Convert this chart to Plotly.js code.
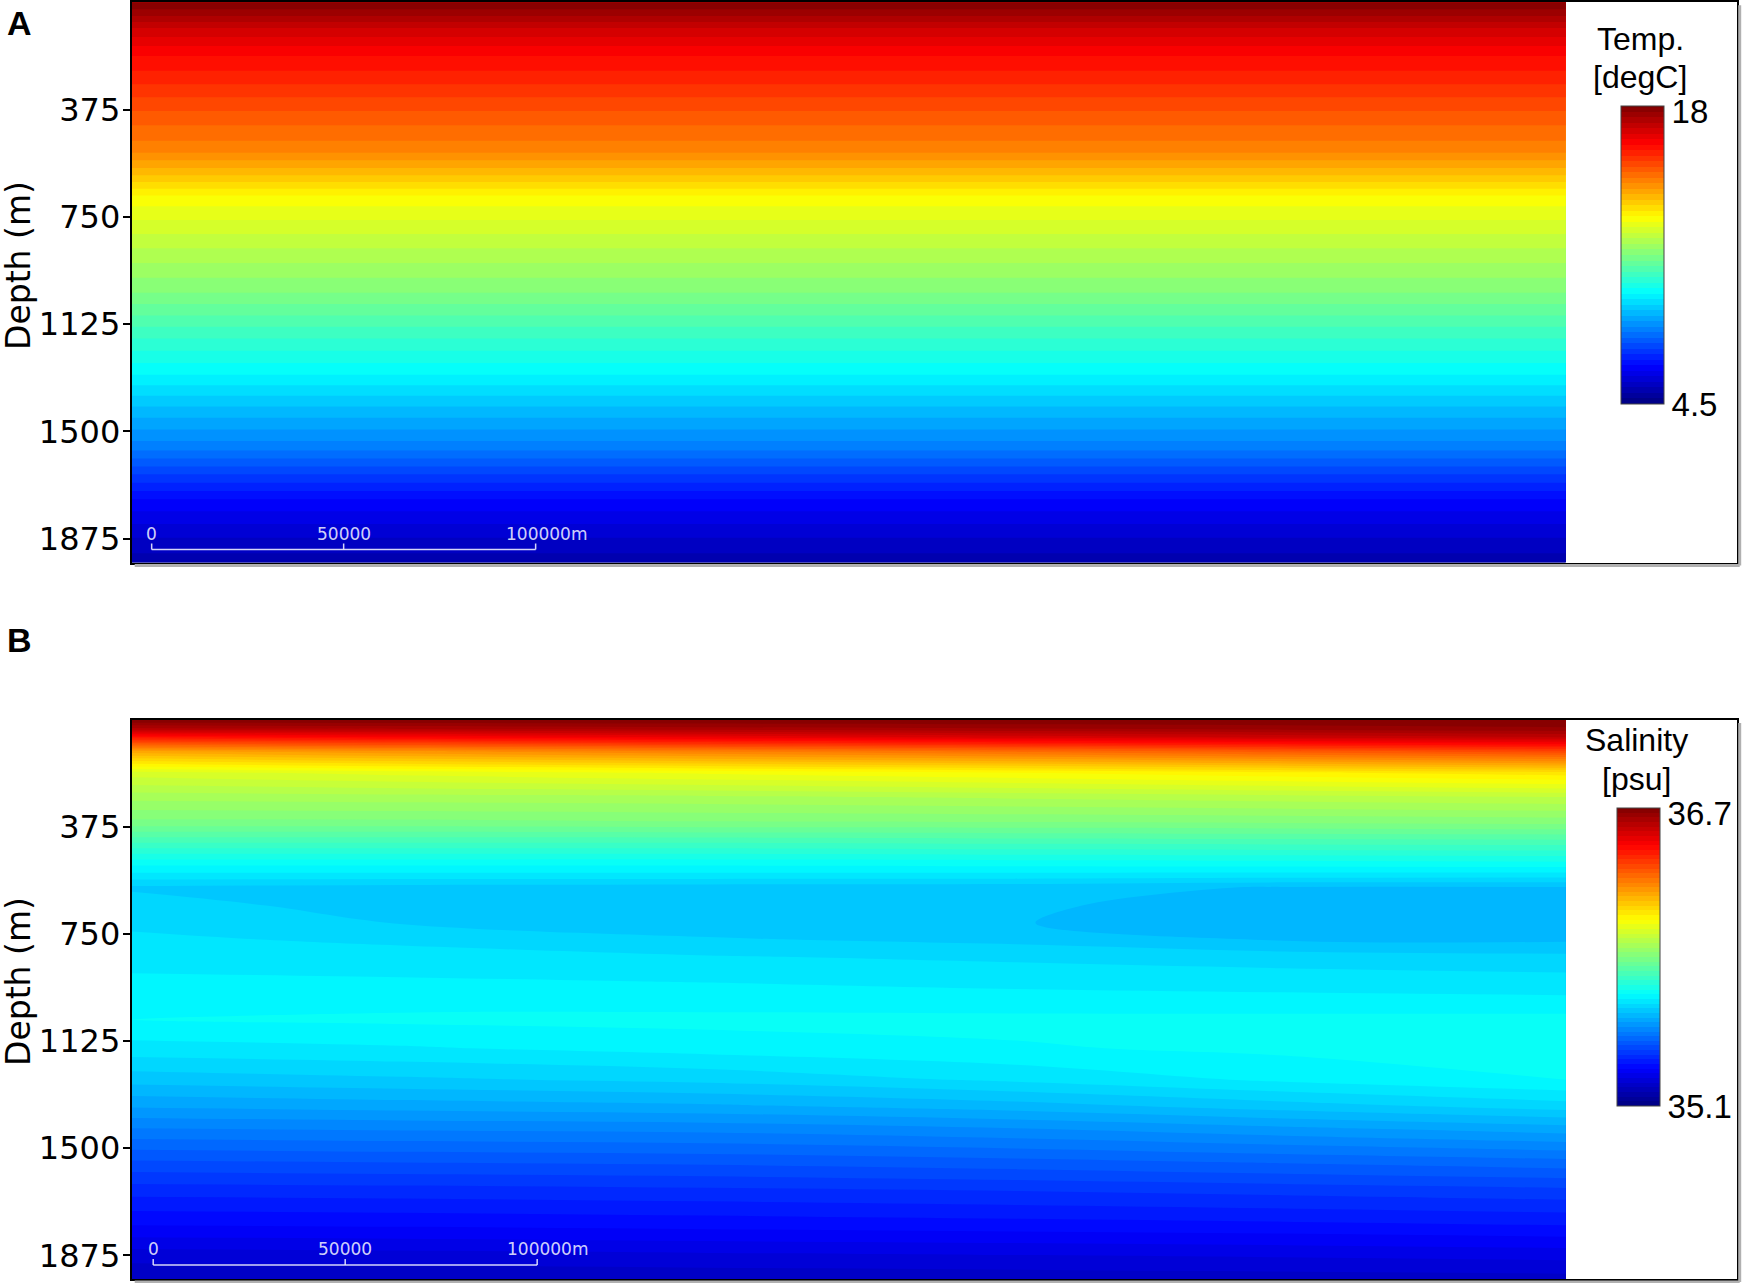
<!DOCTYPE html>
<html>
<head>
<meta charset="utf-8">
<script src="https://cdn.plot.ly/plotly-3.0.1.min.js"></script>
<style>
  html, body { margin: 0; padding: 0; background: white; }
  #chart { width: 1750px; height: 1283px; }
</style>
</head>
<body>
<div id="chart"></div>
<script>
'use strict'

// horizontal distance of the section columns (m)
var distT = [0, 373500];
var distS = [0, 70000, 150000, 230000, 300000, 373500];

// temperature profile, same in every column
var depthT = [0, 40, 90, 178, 260, 350, 430, 516, 600, 685, 780, 880, 1015, 1150, 1293, 1420, 1550, 1650, 1743, 1850, 1958];
var temp   = [18.0, 17.6, 17.0, 16.3, 15.9, 15.4, 15.0, 14.6, 13.8, 12.9, 12.4, 11.9, 11.25, 10.4, 9.56, 8.7, 7.9, 7.0, 6.2, 5.6, 5.1];

// salinity, one list per column of distS
var depthS = [0, 30, 60, 110, 185, 270, 361, 430, 500, 545, 586, 650, 711, 770, 830, 915, 1000, 1050, 1150, 1260, 1350, 1430, 1550, 1650, 1770, 1870, 1958];
var sal0 = [36.70, 36.62, 36.47, 36.24, 36.04, 35.96, 35.89, 35.80, 35.71, 35.665, 35.62, 35.64, 35.645, 35.655, 35.665, 35.68, 35.695, 35.70, 35.665, 35.61, 35.555, 35.50, 35.42, 35.36, 35.30, 35.24, 35.20];
var sal1 = [36.70, 36.63, 36.50, 36.27, 36.06, 35.965, 35.89, 35.80, 35.71, 35.665, 35.615, 35.61, 35.624, 35.645, 35.66, 35.678, 35.695, 35.705, 35.672, 35.62, 35.563, 35.505, 35.425, 35.363, 35.303, 35.243, 35.203];
var sal2 = [36.70, 36.64, 36.53, 36.30, 36.08, 35.97, 35.895, 35.80, 35.71, 35.665, 35.612, 35.607, 35.61, 35.628, 35.652, 35.674, 35.693, 35.708, 35.685, 35.632, 35.572, 35.51, 35.43, 35.368, 35.308, 35.248, 35.206];
var sal3 = [36.70, 36.65, 36.56, 36.33, 36.10, 35.98, 35.897, 35.805, 35.713, 35.664, 35.61, 35.604, 35.601, 35.618, 35.645, 35.668, 35.69, 35.708, 35.697, 35.655, 35.59, 35.525, 35.44, 35.375, 35.313, 35.252, 35.209];
var sal4 = [36.70, 36.66, 36.58, 36.36, 36.12, 35.99, 35.90, 35.808, 35.716, 35.662, 35.598, 35.588, 35.588, 35.598, 35.638, 35.664, 35.688, 35.709, 35.706, 35.68, 35.615, 35.545, 35.452, 35.383, 35.318, 35.256, 35.212];
var sal5 = [36.70, 36.67, 36.60, 36.39, 36.14, 36.00, 35.905, 35.81, 35.72, 35.66, 35.598, 35.585, 35.583, 35.596, 35.632, 35.66, 35.686, 35.71, 35.714, 35.70, 35.64, 35.565, 35.465, 35.392, 35.325, 35.262, 35.215];

var depthTicks = [375, 750, 1125, 1500, 1875];
var tempRange = [4.5, 18];
var salRange = [35.1, 36.7];
var scaleMarks = [0, 50000, 100000];
var scaleLabels = ['0', '50000', '100000m'];

var W = 1750, H = 1283;
function px(x) { return x / W; }
function py(y) { return 1 - y / H; }

var jet = [
  [0, 'rgb(0,0,128)'],
  [0.125, 'rgb(0,0,255)'],
  [0.375, 'rgb(0,255,255)'],
  [0.625, 'rgb(255,255,0)'],
  [0.875, 'rgb(255,0,0)'],
  [1, 'rgb(128,0,0)']
];

function columns(cols) {
  // turn per-column lists into z[row][col]
  var z = [];
  for (var r = 0; r < cols[0].length; r++) {
    var row = [];
    for (var c = 0; c < cols.length; c++) row.push(cols[c][r]);
    z.push(row);
  }
  return z;
}

function cbar(xpix, ytop, range) {
  // top label sits a few px under the top edge, as in the figure
  var nudge = (range[1] - range[0]) * 5 / 298;
  return {
    x: px(xpix), xanchor: 'left', xpad: 0,
    y: py(ytop), yanchor: 'top', ypad: 0,
    len: 298, lenmode: 'pixels',
    thickness: 43, thicknessmode: 'pixels',
    outlinewidth: 1, outlinecolor: '#444',
    tickvals: [range[0], range[1] - nudge], ticktext: range.map(String),
    ticks: '', ticklabelpad: 3,
    tickfont: { family: 'Liberation Sans, Arial', size: 33, color: 'black' }
  };
}

var tz = columns([temp, temp]);
var sz = columns([sal0, sal1, sal2, sal3, sal4, sal5]);

var traceT = {
  type: 'contour', x: distT, y: depthT, z: tz,
  xaxis: 'x', yaxis: 'y',
  colorscale: jet, zmin: tempRange[0], zmax: tempRange[1],
  autocontour: false,
  contours: { start: tempRange[0], end: tempRange[1], size: 0.25, coloring: 'fill', showlines: false },
  line: { width: 0 },
  colorbar: cbar(1620.5, 106, tempRange),
  hoverinfo: 'skip'
};

var traceS = {
  type: 'contour', x: distS, y: depthS, z: sz,
  xaxis: 'x2', yaxis: 'y2',
  colorscale: jet, zmin: salRange[0], zmax: salRange[1],
  autocontour: false,
  contours: { start: salRange[0], end: salRange[1], size: 0.025, coloring: 'fill', showlines: false },
  line: { width: 0 },
  colorbar: cbar(1617, 808, salRange),
  hoverinfo: 'skip'
};

function xax(anchor) {
  return {
    anchor: anchor, domain: [px(131.7), px(1736.7)],
    range: [0, 418000], showticklabels: false, ticks: '',
    showgrid: false, zeroline: false,
    showline: true, mirror: true, linecolor: 'black', linewidth: 2
  };
}
function yax(anchor, top, bottom) {
  return {
    anchor: anchor, domain: [py(bottom), py(top)],
    range: [1958, 0], tickvals: depthTicks,
    ticks: 'outside', ticklen: 7, tickwidth: 2, tickcolor: 'black',
    ticklabelstandoff: -4,
    tickfont: { family: 'DejaVu Sans, Verdana', size: 32, color: 'black' },
    showgrid: false, zeroline: false,
    showline: true, mirror: true, linecolor: 'black', linewidth: 2
  };
}

var annotations = [];
var shapes = [];

function label(txt, x, y, opts) {
  var a = {
    text: txt, x: px(x), y: py(y), xref: 'paper', yref: 'paper',
    showarrow: false, xanchor: 'center', yanchor: 'middle',
    font: { family: 'Liberation Sans, Arial', size: 32, color: 'black' }
  };
  for (var k in opts) a[k] = opts[k];
  return a;
}

var letterFont = { family: 'Liberation Sans, Arial', size: 34, color: 'black' };
var depthFont = { family: 'DejaVu Sans, Verdana', size: 33, color: 'black' };
annotations.push(label('<b>A</b>', 19, 23, { font: letterFont }));
annotations.push(label('<b>B</b>', 19, 640, { font: letterFont }));
annotations.push(label('Depth (m)', 18, 266, { textangle: -90, font: depthFont }));
annotations.push(label('Depth (m)', 18, 982, { textangle: -90, font: depthFont }));
annotations.push(label('Temp.', 1640, 39));
annotations.push(label('[degC]', 1640, 77));
annotations.push(label('Salinity', 1636, 740));
annotations.push(label('[psu]', 1636, 779));

// scale bar inside each panel
function scalebar(xref, x0, ylinePix) {
  var white = 'rgba(235,235,255,0.9)';
  shapes.push({ type: 'line', xref: xref, yref: 'paper', x0: x0, x1: x0 + scaleMarks[2],
    y0: py(ylinePix), y1: py(ylinePix), line: { color: white, width: 1.5 } });
  for (var i = 0; i < scaleMarks.length; i++) {
    shapes.push({ type: 'line', xref: xref, yref: 'paper', x0: x0 + scaleMarks[i], x1: x0 + scaleMarks[i],
      y0: py(ylinePix), y1: py(ylinePix - 6), line: { color: white, width: 1.5 } });
    var last = i == scaleMarks.length - 1;
    annotations.push({
      text: scaleLabels[i], xref: xref, yref: 'paper',
      x: x0 + scaleMarks[i], y: py(ylinePix - 16),
      xanchor: last ? 'left' : 'center', xshift: last ? -32 : 0,
      yanchor: 'middle', showarrow: false,
      font: { family: 'DejaVu Sans, Verdana', size: 17, color: white }
    });
  }
}
scalebar('x', 5200, 549.5);
scalebar('x2', 5600, 1265);

// light grey drop shadow of the frames
function shadow(left, top, right, bottom) {
  var c = '#b0b0b0';
  shapes.push({ type: 'line', xref: 'paper', yref: 'paper', x0: px(left + 3), x1: px(right + 3),
    y0: py(bottom + 3), y1: py(bottom + 3), line: { color: c, width: 3 } });
  shapes.push({ type: 'line', xref: 'paper', yref: 'paper', x0: px(right + 3), x1: px(right + 3),
    y0: py(top + 3), y1: py(bottom + 3), line: { color: c, width: 3 } });
}
shadow(131.7, 2.2, 1736.7, 562.5);
shadow(131.7, 720, 1736.7, 1279);

var layout = {
  width: W, height: H,
  margin: { l: 0, r: 0, t: 0, b: 0 },
  paper_bgcolor: 'white', plot_bgcolor: 'white',
  showlegend: false,
  xaxis: xax('y'),
  yaxis: yax('x', 2.2, 562.5),
  xaxis2: xax('y2'),
  yaxis2: yax('x2', 720, 1279),
  annotations: annotations,
  shapes: shapes
};

var config = { displayModeBar: false, staticPlot: true };

Plotly.newPlot('chart', [traceT, traceS], layout, config);
</script>
</body>
</html>
